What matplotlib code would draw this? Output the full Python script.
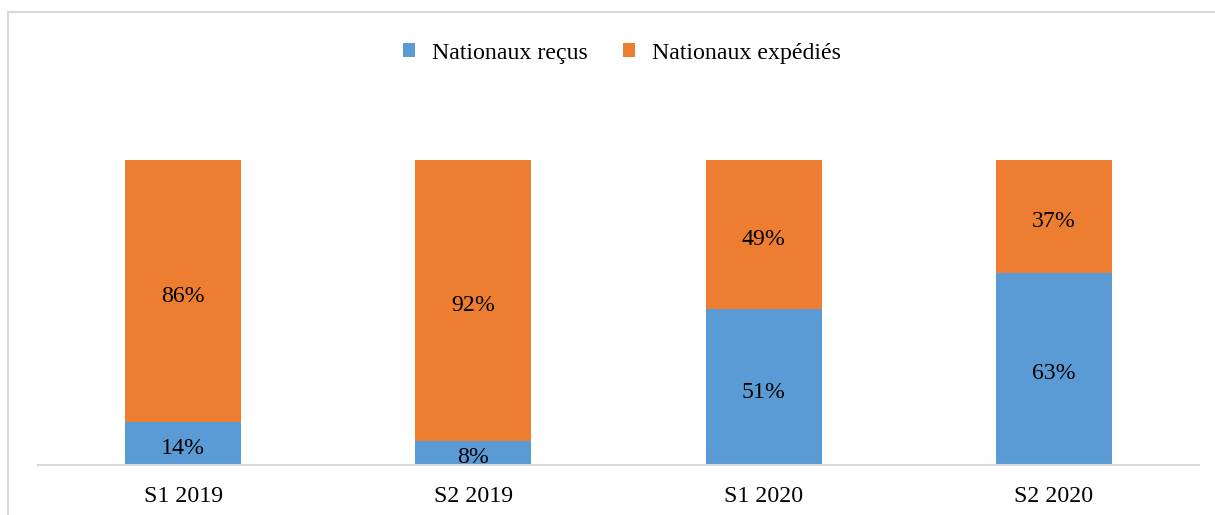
import numpy as np
import matplotlib
matplotlib.use("Agg")
import matplotlib.pyplot as plt
from matplotlib.patches import Rectangle

# data
periodes = ["S1 2019", "S2 2019", "S1 2020", "S2 2020"]
recus = [14, 8, 51, 63]
expedies = [86, 92, 49, 37]

bleu = "#5B9BD5"
orange = "#ED7D31"

plt.rcParams["font.family"] = ["Liberation Serif", "DejaVu Serif"]

fig = plt.figure(figsize=(12.15, 5.15), dpi=100)

# light frame around the chart area
fig.patches.append(Rectangle((8 / 1215, -0.1), 1.2, (515 - 12) / 515 + 0.1,
                             transform=fig.transFigure, fill=False,
                             edgecolor="#D9D9D9", linewidth=1.5))

ax = fig.add_axes([38 / 1215, 50 / 515, 1161 / 1215, 305 / 515])
x = np.arange(len(periodes))
largeur = 0.4

b1 = ax.bar(x, recus, largeur, color=bleu, label="Nationaux reçus")
b2 = ax.bar(x, expedies, largeur, bottom=recus, color=orange, label="Nationaux expédiés")

# percentage labels centred in each segment
for i in range(len(periodes)):
    ax.annotate(f"{recus[i]}%", (x[i], recus[i] / 2), xytext=(0, -3.5),
                textcoords="offset points", ha="center", va="center", fontsize=17.2)
    ax.annotate(f"{expedies[i]}%", (x[i], recus[i] + expedies[i] / 2), xytext=(0, -3.5),
                textcoords="offset points", ha="center", va="center", fontsize=17.2)

ax.set_xlim(-0.5, len(periodes) - 0.5)
ax.set_ylim(0, 100)
ax.set_xticks(x)
ax.set_xticklabels(periodes, fontsize=17.2)
ax.tick_params(axis="x", length=0, pad=15)
ax.set_yticks([])
for s in ["top", "right", "left"]:
    ax.spines[s].set_visible(False)
ax.spines["bottom"].set_color("#D9D9D9")
ax.spines["bottom"].set_linewidth(1.5)

fig.legend(handles=[b1, b2], loc="center", bbox_to_anchor=(0.512, 1 - 53 / 515),
           ncol=2, frameon=False, fontsize=17.2, handlelength=0.5, handleheight=0.5,
           handletextpad=0.7, columnspacing=1.5)

fig.savefig("out.png", dpi=100)
